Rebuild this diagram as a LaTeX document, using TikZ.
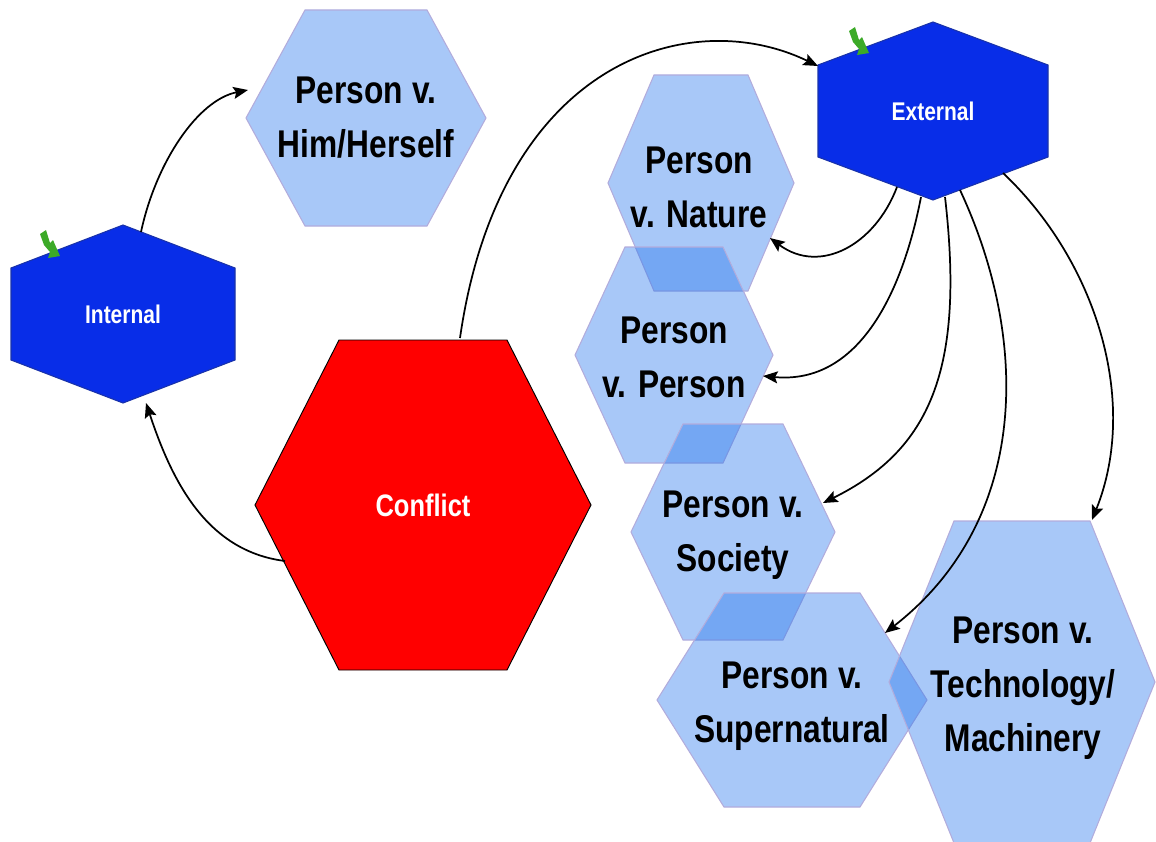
\documentclass[tikz,border=0pt]{standalone}
\usepackage{fontspec}
\setmainfont[FakeStretch=0.82]{Liberation Sans}
\usepackage{xcolor}
\usetikzlibrary{arrows.meta}
\pgfdeclarelayer{nodelayer}
\pgfdeclarelayer{edgelayer}
\pgfsetlayers{main,nodelayer,edgelayer}
\definecolor{softBlue}{RGB}{38,118,237}
\definecolor{softEdge}{RGB}{178,172,220}
\definecolor{deepBlue}{RGB}{8,45,232}
\definecolor{deepEdge}{RGB}{25,50,170}
\definecolor{tickGreen}{RGB}{60,170,40}
\tikzstyle{soft_hex}=[fill=softBlue, fill opacity=0.4, draw=softEdge, line width=0.8pt]
\tikzstyle{deep_hex}=[fill=deepBlue, draw=deepEdge, line width=0.8pt]
\tikzstyle{red_hex}=[fill=red, draw=black, line width=0.7pt]
\tikzstyle{soft_text}=[align=center, text=black, font=\fontsize{29}{40.5}\selectfont\bfseries, inner sep=0pt]
\tikzstyle{deep_text}=[align=center, text=white, font=\fontsize{19.2}{24}\selectfont\bfseries, inner sep=0pt]
\tikzstyle{red_text}=[align=center, text=white, font=\fontsize{23.3}{28}\selectfont\bfseries, inner sep=0pt]
\tikzstyle{conChan}=[-{Stealth[length=11pt,width=9pt,inset=2pt]}, black, line width=1.3pt]
\tikzstyle{tick_mark}=[fill=tickGreen]
% hexagon with a flat top: style, centre x, centre y, half width, half height, half top edge
\newcommand{\flathex}[6]{\draw [style=#1] (#2-#4,#3) -- (#2-#6,#3-#5) -- (#2+#6,#3-#5) -- (#2+#4,#3) -- (#2+#6,#3+#5) -- (#2-#6,#3+#5) -- cycle;}
% hexagon with a point on top: style, centre x, centre y, half width, half height, half side
\newcommand{\tiphex}[6]{\draw [style=#1] (#2,#3-#5) -- (#2+#4,#3-#6) -- (#2+#4,#3+#6) -- (#2,#3+#5) -- (#2-#4,#3+#6) -- (#2-#4,#3-#6) -- cycle;}
\begin{document}
\begin{tikzpicture}[x=0.75pt, y=-0.75pt]
        \useasboundingbox (0,0) rectangle (1156,842);
        \flathex{soft_hex}{366}{118}{120}{108}{61}
        \flathex{soft_hex}{701}{183}{93}{108}{47}
        \flathex{soft_hex}{674}{355}{99}{108}{49}
        \flathex{soft_hex}{733}{532}{102}{108}{50}
        \flathex{soft_hex}{792}{700}{135}{107}{68}
        \flathex{soft_hex}{1022}{682}{133}{161}{68}
        \flathex{red_hex}{423}{505}{168}{165}{84}
        \tiphex{deep_hex}{123}{314}{112}{89}{46}
        \tiphex{deep_hex}{933}{111}{115}{89}{46}
        %Ticks
        \fill [style=tick_mark] (40,234) -- (46,230) -- (50,243) -- (53,240) -- (60,256) -- (48,258) -- (50,252) -- (44,245) -- cycle;
        \fill [style=tick_mark] (849,31) -- (855,27) -- (859,40) -- (862,37) -- (869,53) -- (857,55) -- (859,49) -- (853,42) -- cycle;
        \begin{pgfonlayer}{nodelayer}
            \node [style=soft_text] (Self) at (366,118) {Person v.\\Him/Herself};
            \node [style=soft_text] (Nature) at (699,187) {Person\\v. Nature};
            \node [style=soft_text] (Person) at (674,357) {Person\\v. Person};
            \node [style=soft_text] (Society) at (733,535) {Person v.\\Society};
            \node [style=soft_text] (Super) at (792,706) {Person v.\\Supernatural};
            \node [style=soft_text] (Tech) at (1023,688) {Person v.\\Technology/\\Machinery};
            \node [style=red_text] (Conflict) at (423,505) {Conflict};
            \node [style=deep_text] (Internal) at (123,314) {Internal};
            \node [style=deep_text] (External) at (933,111) {External};
        \end{pgfonlayer}
        \begin{pgfonlayer}{edgelayer}
            \draw [style={conChan}] ([shift={(18,-82)}]Internal.center) .. controls +(15,-70) and +(-50,10) .. ([shift={(-118,-28)}]Self.center);
            \draw [style={conChan}] ([shift={(-138,56)}]Conflict.center) .. controls +(-80,-10) and +(25,75) .. ([shift={(23,89)}]Internal.center);
            \draw [style={conChan}] ([shift={(37,-167)}]Conflict.center) .. controls +(40,-278) and +(-128,-62) .. ([shift={(-115,-45)}]External.center);

            \draw [style={conChan}] ([shift={(-36,76)}]External.center) .. controls +(-22,58) and +(50,37) .. ([shift={(71,51)}]Nature.center);
            \draw [style={conChan}] ([shift={(-12,86)}]External.center) .. controls +(-18,93) and +(97,9) .. ([shift={(89,19)}]Person.center);
            \draw [style={conChan}] ([shift={(12,86)}]External.center) .. controls +(20,173) and +(107,-53) .. ([shift={(90,-32)}]Society.center);
            \draw [style={conChan}] ([shift={(27,79)}]External.center) .. controls +(70,150) and +(145,-113) .. ([shift={(93,-73)}]Super.center);
            \draw [style={conChan}] ([shift={(70,62)}]External.center) .. controls +(92,87) and +(48,-120) .. ([shift={(69,-168)}]Tech.center);
        \end{pgfonlayer}
\end{tikzpicture}
\end{document}
